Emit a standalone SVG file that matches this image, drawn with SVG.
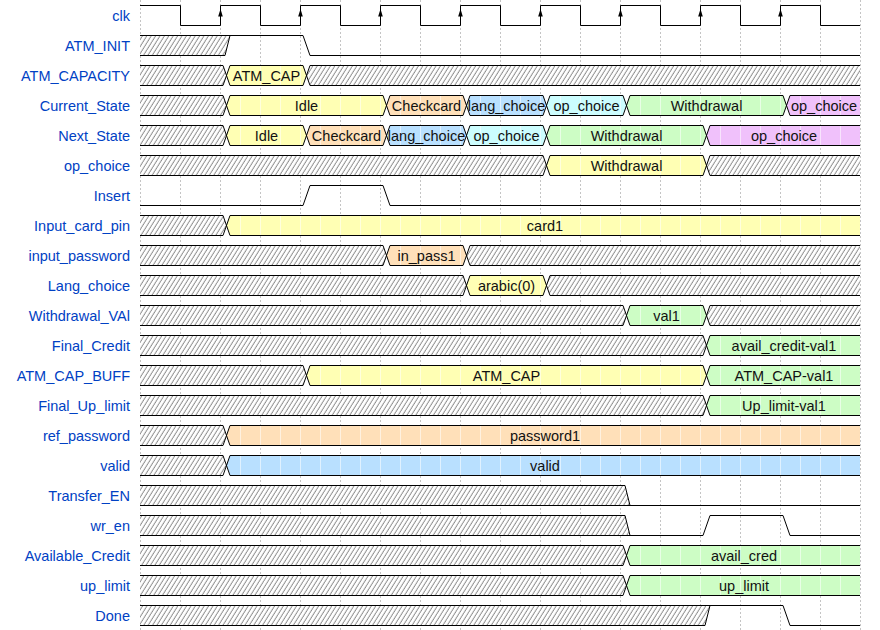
<svg xmlns="http://www.w3.org/2000/svg" xmlns:xlink="http://www.w3.org/1999/xlink" width="880" height="630" viewBox="0 0 880 630">
<style>
.lbl{font-family:"Liberation Sans",Arial,sans-serif;font-size:14.5px;fill:#0041c4;text-anchor:end}
.dt{font-family:"Liberation Sans",Arial,sans-serif;font-size:14.5px;fill:#111;text-anchor:middle}
.w{fill:none;stroke:#000;stroke-width:1}
.grid{stroke:#c4c4c4;stroke-width:1;stroke-dasharray:2,2}
.x{fill:url(#hx)}
.y{fill:url(#fy)}
.o{fill:url(#fo)}
.b{fill:url(#fb)}
.c{fill:url(#fc)}
.g{fill:url(#fg)}
.p{fill:url(#fp)}
</style>
<defs>
<pattern id="hx" width="4.4" height="4" patternUnits="userSpaceOnUse" patternTransform="skewX(-32)">
<rect width="4.4" height="4" fill="#fff"/>
<line x1="2" y1="-1" x2="2" y2="5" stroke="#707070" stroke-width="0.9"/>
</pattern>
<pattern id="fy" width="20" height="630" patternUnits="userSpaceOnUse"><rect width="20" height="630" fill="#ffffb4"/><rect width="1" height="630" fill="#fff" opacity="0.55"/></pattern>
<pattern id="fo" width="20" height="630" patternUnits="userSpaceOnUse"><rect width="20" height="630" fill="#ffe0b9"/><rect width="1" height="630" fill="#fff" opacity="0.55"/></pattern>
<pattern id="fb" width="20" height="630" patternUnits="userSpaceOnUse"><rect width="20" height="630" fill="#b9e0ff"/><rect width="1" height="630" fill="#fff" opacity="0.55"/></pattern>
<pattern id="fc" width="20" height="630" patternUnits="userSpaceOnUse"><rect width="20" height="630" fill="#ccfdfe"/><rect width="1" height="630" fill="#fff" opacity="0.55"/></pattern>
<pattern id="fg" width="20" height="630" patternUnits="userSpaceOnUse"><rect width="20" height="630" fill="#cdfdc5"/><rect width="1" height="630" fill="#fff" opacity="0.55"/></pattern>
<pattern id="fp" width="20" height="630" patternUnits="userSpaceOnUse"><rect width="20" height="630" fill="#f0c1fb"/><rect width="1" height="630" fill="#fff" opacity="0.55"/></pattern>
<path id="arw" d="M-2.3,16.5 L0,9 L2.3,16.5 Z" fill="#000"/>
</defs>
<rect width="880" height="630" fill="#fff"/>
<g id="grid" class="grid">
<path d="M140.5,0V630M180.5,0V630M220.5,0V630M260.5,0V630M300.5,0V630M340.5,0V630M380.5,0V630M420.5,0V630M460.5,0V630M500.5,0V630M540.5,0V630M580.5,0V630M620.5,0V630M660.5,0V630M700.5,0V630M740.5,0V630M780.5,0V630M820.5,0V630M860.5,0V630"/>
</g>
<g id="labels">
<text class="lbl" x="130" y="20.5">clk</text>
<text class="lbl" x="130" y="50.5">ATM_INIT</text>
<text class="lbl" x="130" y="80.5">ATM_CAPACITY</text>
<text class="lbl" x="130" y="110.5">Current_State</text>
<text class="lbl" x="130" y="140.5">Next_State</text>
<text class="lbl" x="130" y="170.5">op_choice</text>
<text class="lbl" x="130" y="200.5">Insert</text>
<text class="lbl" x="130" y="230.5">Input_card_pin</text>
<text class="lbl" x="130" y="260.5">input_password</text>
<text class="lbl" x="130" y="290.5">Lang_choice</text>
<text class="lbl" x="130" y="320.5">Withdrawal_VAl</text>
<text class="lbl" x="130" y="350.5">Final_Credit</text>
<text class="lbl" x="130" y="380.5">ATM_CAP_BUFF</text>
<text class="lbl" x="130" y="410.5">Final_Up_limit</text>
<text class="lbl" x="130" y="440.5">ref_password</text>
<text class="lbl" x="130" y="470.5">valid</text>
<text class="lbl" x="130" y="500.5">Transfer_EN</text>
<text class="lbl" x="130" y="530.5">wr_en</text>
<text class="lbl" x="130" y="560.5">Available_Credit</text>
<text class="lbl" x="130" y="590.5">up_limit</text>
<text class="lbl" x="130" y="620.5">Done</text>
</g>
<g id="sig_clk">
<path class="w" d="M140,5.5H180.5V25.5H220.5V5.5H260.5V25.5H300.5V5.5H340.5V25.5H380.5V5.5H420.5V25.5H460.5V5.5H500.5V25.5H540.5V5.5H580.5V25.5H620.5V5.5H660.5V25.5H700.5V5.5H740.5V25.5H780.5V5.5H820.5V25.5H860"/>
<use xlink:href="#arw" x="220.5"/><use xlink:href="#arw" x="300.5"/><use xlink:href="#arw" x="380.5"/><use xlink:href="#arw" x="460.5"/><use xlink:href="#arw" x="540.5"/><use xlink:href="#arw" x="620.5"/><use xlink:href="#arw" x="700.5"/><use xlink:href="#arw" x="780.5"/>
</g>
<g id="sig_ATM_INIT">
<polygon class="x" points="140,35 230,35 225,55 140,55"/>
<path class="w" d="M140,55.5H225L230,35.5H303L310,55.5H860M140,35.5H230"/>
</g>
<g id="sig_ATM_CAPACITY">
<polygon class="x" points="140,65 223,65 226.5,75 223,85 140,85"/>
<polygon class="y" points="226.5,75 230,65 303,65 306.5,75 303,85 230,85"/>
<polygon class="x" points="306.5,75 310,65 860,65 860,85 310,85"/>
<path class="w" d="M140,65.5H223L230,85.5H303L310,65.5H860M140,85.5H223L230,65.5H303L310,85.5H860"/>
<text class="dt" x="266.5" y="80.5">ATM_CAP</text>
</g>
<g id="sig_Current_State">
<polygon class="x" points="140,95 223,95 226.5,105 223,115 140,115"/>
<polygon class="y" points="226.5,105 230,95 383,95 386.5,105 383,115 230,115"/>
<polygon class="o" points="386.5,105 390,95 463,95 466.5,105 463,115 390,115"/>
<polygon class="b" points="466.5,105 470,95 543,95 546.5,105 543,115 470,115"/>
<polygon class="c" points="546.5,105 550,95 623,95 626.5,105 623,115 550,115"/>
<polygon class="g" points="626.5,105 630,95 783,95 786.5,105 783,115 630,115"/>
<polygon class="p" points="786.5,105 790,95 860,95 860,115 790,115"/>
<path class="w" d="M140,95.5H223L230,115.5H383L390,95.5H463L470,115.5H543L550,95.5H623L630,115.5H783L790,95.5H860M140,115.5H223L230,95.5H383L390,115.5H463L470,95.5H543L550,115.5H623L630,95.5H783L790,115.5H860"/>
<text class="dt" x="306.5" y="110.5">Idle</text>
<text class="dt" x="426.5" y="110.5">Checkcard</text>
<text class="dt" x="506.5" y="110.5">lang_choice</text>
<text class="dt" x="586.5" y="110.5">op_choice</text>
<text class="dt" x="706.5" y="110.5">Withdrawal</text>
<text class="dt" x="824" y="110.5">op_choice</text>
</g>
<g id="sig_Next_State">
<polygon class="x" points="140,125 223,125 226.5,135 223,145 140,145"/>
<polygon class="y" points="226.5,135 230,125 303,125 306.5,135 303,145 230,145"/>
<polygon class="o" points="306.5,135 310,125 383,125 386.5,135 383,145 310,145"/>
<polygon class="b" points="386.5,135 390,125 463,125 466.5,135 463,145 390,145"/>
<polygon class="c" points="466.5,135 470,125 543,125 546.5,135 543,145 470,145"/>
<polygon class="g" points="546.5,135 550,125 703,125 706.5,135 703,145 550,145"/>
<polygon class="p" points="706.5,135 710,125 860,125 860,145 710,145"/>
<path class="w" d="M140,125.5H223L230,145.5H303L310,125.5H383L390,145.5H463L470,125.5H543L550,145.5H703L710,125.5H860M140,145.5H223L230,125.5H303L310,145.5H383L390,125.5H463L470,145.5H543L550,125.5H703L710,145.5H860"/>
<text class="dt" x="266.5" y="140.5">Idle</text>
<text class="dt" x="346.5" y="140.5">Checkcard</text>
<text class="dt" x="426.5" y="140.5">lang_choice</text>
<text class="dt" x="506.5" y="140.5">op_choice</text>
<text class="dt" x="626.5" y="140.5">Withdrawal</text>
<text class="dt" x="784" y="140.5">op_choice</text>
</g>
<g id="sig_op_choice">
<polygon class="x" points="140,155 543,155 546.5,165 543,175 140,175"/>
<polygon class="y" points="546.5,165 550,155 703,155 706.5,165 703,175 550,175"/>
<polygon class="x" points="706.5,165 710,155 860,155 860,175 710,175"/>
<path class="w" d="M140,155.5H543L550,175.5H703L710,155.5H860M140,175.5H543L550,155.5H703L710,175.5H860"/>
<text class="dt" x="626.5" y="170.5">Withdrawal</text>
</g>
<g id="sig_Insert">
<path class="w" d="M140,205.5H303L310,185.5H383L390,205.5H860"/>
</g>
<g id="sig_Input_card_pin">
<polygon class="x" points="140,215 223,215 226.5,225 223,235 140,235"/>
<polygon class="y" points="226.5,225 230,215 860,215 860,235 230,235"/>
<path class="w" d="M140,215.5H223L230,235.5H860M140,235.5H223L230,215.5H860"/>
<text class="dt" x="545" y="230.5">card1</text>
</g>
<g id="sig_input_password">
<polygon class="x" points="140,245 383,245 386.5,255 383,265 140,265"/>
<polygon class="o" points="386.5,255 390,245 463,245 466.5,255 463,265 390,265"/>
<polygon class="x" points="466.5,255 470,245 860,245 860,265 470,265"/>
<path class="w" d="M140,245.5H383L390,265.5H463L470,245.5H860M140,265.5H383L390,245.5H463L470,265.5H860"/>
<text class="dt" x="426.5" y="260.5">in_pass1</text>
</g>
<g id="sig_Lang_choice">
<polygon class="x" points="140,275 463,275 466.5,285 463,295 140,295"/>
<polygon class="y" points="466.5,285 470,275 543,275 546.5,285 543,295 470,295"/>
<polygon class="x" points="546.5,285 550,275 860,275 860,295 550,295"/>
<path class="w" d="M140,275.5H463L470,295.5H543L550,275.5H860M140,295.5H463L470,275.5H543L550,295.5H860"/>
<text class="dt" x="506.5" y="290.5">arabic(0)</text>
</g>
<g id="sig_Withdrawal_VAl">
<polygon class="x" points="140,305 623,305 626.5,315 623,325 140,325"/>
<polygon class="g" points="626.5,315 630,305 703,305 706.5,315 703,325 630,325"/>
<polygon class="x" points="706.5,315 710,305 860,305 860,325 710,325"/>
<path class="w" d="M140,305.5H623L630,325.5H703L710,305.5H860M140,325.5H623L630,305.5H703L710,325.5H860"/>
<text class="dt" x="666.5" y="320.5">val1</text>
</g>
<g id="sig_Final_Credit">
<polygon class="x" points="140,335 703,335 706.5,345 703,355 140,355"/>
<polygon class="g" points="706.5,345 710,335 860,335 860,355 710,355"/>
<path class="w" d="M140,335.5H703L710,355.5H860M140,355.5H703L710,335.5H860"/>
<text class="dt" x="784" y="350.5">avail_credit-val1</text>
</g>
<g id="sig_ATM_CAP_BUFF">
<polygon class="x" points="140,365 303,365 306.5,375 303,385 140,385"/>
<polygon class="y" points="306.5,375 310,365 703,365 706.5,375 703,385 310,385"/>
<polygon class="g" points="706.5,375 710,365 860,365 860,385 710,385"/>
<path class="w" d="M140,365.5H303L310,385.5H703L710,365.5H860M140,385.5H303L310,365.5H703L710,385.5H860"/>
<text class="dt" x="506.5" y="380.5">ATM_CAP</text>
<text class="dt" x="784" y="380.5">ATM_CAP-val1</text>
</g>
<g id="sig_Final_Up_limit">
<polygon class="x" points="140,395 703,395 706.5,405 703,415 140,415"/>
<polygon class="g" points="706.5,405 710,395 860,395 860,415 710,415"/>
<path class="w" d="M140,395.5H703L710,415.5H860M140,415.5H703L710,395.5H860"/>
<text class="dt" x="784" y="410.5">Up_limit-val1</text>
</g>
<g id="sig_ref_password">
<polygon class="x" points="140,425 223,425 226.5,435 223,445 140,445"/>
<polygon class="o" points="226.5,435 230,425 860,425 860,445 230,445"/>
<path class="w" d="M140,425.5H223L230,445.5H860M140,445.5H223L230,425.5H860"/>
<text class="dt" x="545" y="440.5">password1</text>
</g>
<g id="sig_valid">
<polygon class="x" points="140,455 223,455 226.5,465 223,475 140,475"/>
<polygon class="b" points="226.5,465 230,455 860,455 860,475 230,475"/>
<path class="w" d="M140,455.5H223L230,475.5H860M140,475.5H223L230,455.5H860"/>
<text class="dt" x="545" y="470.5">valid</text>
</g>
<g id="sig_Transfer_EN">
<polygon class="x" points="140,485 625,485 630,505 140,505"/>
<path class="w" d="M140,485.5H625L630,505.5M140,505.5H860"/>
</g>
<g id="sig_wr_en">
<polygon class="x" points="140,515 625,515 630,535 140,535"/>
<path class="w" d="M140,515.5H625L630,535.5H703L710,515.5H783L790,535.5H860M140,535.5H630"/>
</g>
<g id="sig_Available_Credit">
<polygon class="x" points="140,545 623,545 626.5,555 623,565 140,565"/>
<polygon class="g" points="626.5,555 630,545 860,545 860,565 630,565"/>
<path class="w" d="M140,545.5H623L630,565.5H860M140,565.5H623L630,545.5H860"/>
<text class="dt" x="744" y="560.5">avail_cred</text>
</g>
<g id="sig_up_limit">
<polygon class="x" points="140,575 623,575 626.5,585 623,595 140,595"/>
<polygon class="g" points="626.5,585 630,575 860,575 860,595 630,595"/>
<path class="w" d="M140,575.5H623L630,595.5H860M140,595.5H623L630,575.5H860"/>
<text class="dt" x="744" y="590.5">up_limit</text>
</g>
<g id="sig_Done">
<polygon class="x" points="140,605 710,605 705,625 140,625"/>
<path class="w" d="M140,625.5H705L710,605.5H783L790,625.5H860M140,605.5H710"/>
</g>
<g id="connectors"/>
</svg>
